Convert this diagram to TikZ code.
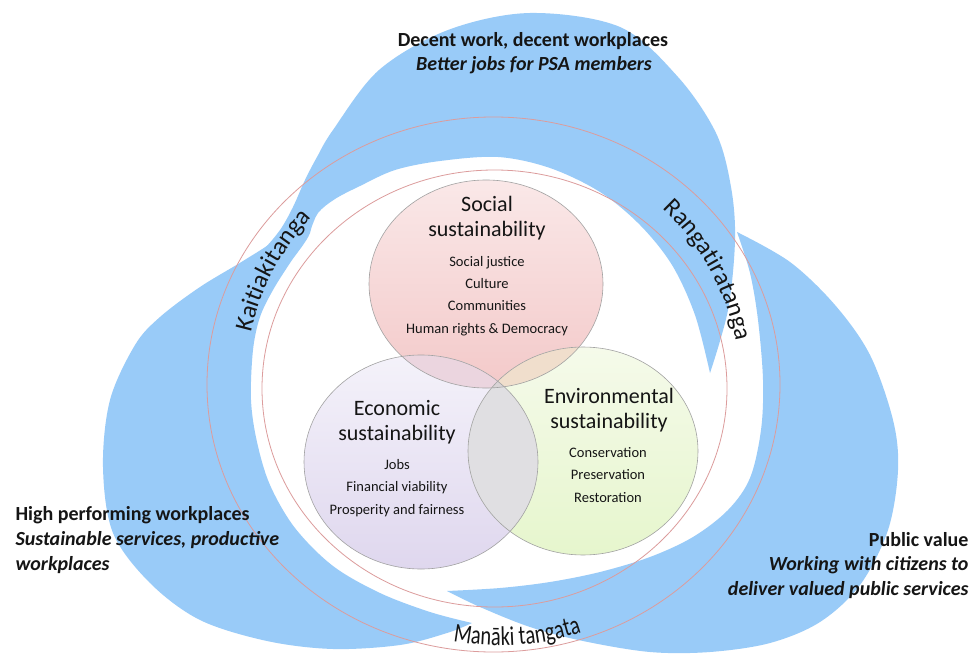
\documentclass[tikz,border=0pt]{standalone}
\usepackage{fontspec}
\setmainfont{Carlito}
\newfontfamily\narrowfont[FakeStretch=0.76]{Carlito}
\usepackage{tikz}
\usetikzlibrary{shapes.geometric,decorations.text}
\definecolor{ink}{HTML}{151515}
\definecolor{swooshblue}{HTML}{99CBF8}
\definecolor{ringred}{HTML}{DC9C9C}
\definecolor{venngray}{HTML}{A2A2A2}
\definecolor{soctop}{HTML}{FAE8E8}
\definecolor{socbot}{HTML}{F3C9C9}
\definecolor{ecotop}{HTML}{F4F2FA}
\definecolor{ecobot}{HTML}{DFD7EE}
\definecolor{envtop}{HTML}{F5FAEA}
\definecolor{envbot}{HTML}{E6F6CD}
\definecolor{mixse}{HTML}{EBD5DF}
\definecolor{mixsv}{HTML}{F0DECC}
\definecolor{mixev}{HTML}{E0DFE2}
\definecolor{mixall}{HTML}{D9D4D6}
\newcommand{\fsz}[2]{\fontsize{#1}{#2}\selectfont}

\begin{document}
\begin{tikzpicture}[
  x=1pt, y=-1pt,
  swoosh/.style={fill=swooshblue, draw=none},
  ring/.style={draw=ringred, line width=0.8pt},
  venn/.style={ellipse, inner sep=0pt, draw=none},
  vennline/.style={draw=venngray, line width=0.6pt},
  head/.style={font=\fsz{20}{24}\bfseries, text=ink},
  sub/.style={font=\fsz{20}{24.5}\bfseries\itshape, text=ink},
  title/.style={font=\fsz{22}{25}, text=ink, align=center},
  item/.style={font=\fsz{14.5}{22.2}, text=ink, align=center},
  ringlab/.style={decorate, decoration={text along path, text align=center, text color=ink}},
]
\fill[white] (0,0) rectangle (976,655);
\useasboundingbox (0,0) rectangle (976,655);

% three curved arrows, clockwise
\fill[swoosh] plot[smooth, tension=0.55] coordinates {(215,300) (243,265) (262,251) (280,230) (293,207) (305,180) (317,157) (333,130) (379,70) (448,30) (530,13) (620,27) (678,77) (716,133) (731,187) (735,240) (728,310) (710,373)}
  -- plot[smooth, tension=0.55] coordinates {(710,373) (695,315) (672,265) (640,225) (600,192) (550,168) (498,157) (440,161) (395,170) (360,186) (335,199) (318,213) (309,232) (290,258) (255,285) (215,300)} -- cycle;
\fill[swoosh] plot[smooth, tension=0.55] coordinates {(312,205) (310,233) (290,263) (273,290) (260,317) (253,350) (251,400) (257,442) (270,485) (295,528) (333,566) (380,593) (430,612) (472,623)}
  -- plot[smooth, tension=0.55] coordinates {(472,623) (447,633) (400,645) (333,649) (267,641) (200,620) (150,583) (113,533) (103,467) (110,400) (135,345) (160,317) (200,287) (243,261) (275,240) (300,215) (312,205)} -- cycle;
\fill[swoosh] plot[smooth, tension=0.55] coordinates {(737,232) (790,262) (835,305) (870,355) (893,420) (898,470) (888,530) (860,585) (820,622) (770,643) (710,652) (650,652) (583,641) (530,627) (480,607) (447,591)}
  -- plot[smooth, tension=0.55] coordinates {(447,591) (500,588) (550,582) (600,572) (650,557) (693,537) (728,510) (750,478) (761,430) (763,380) (758,320) (750,273) (737,232)} -- cycle;

% rings
\draw[ring] (494.5,388.5) ellipse [x radius=232.5, y radius=218.5];
\draw[ring] (493.5,384.5) ellipse [x radius=286.5, y radius=267.5];

% venn
\node[venn, top color=soctop, bottom color=socbot, minimum width=234pt, minimum height=208pt] (social) at (486,284) {};
\node[venn, top color=ecotop, bottom color=ecobot, minimum width=234pt, minimum height=214pt] (econ) at (421,462) {};
\node[venn, top color=envtop, bottom color=envbot, minimum width=230pt, minimum height=208pt] (env) at (583,451) {};
\begin{scope}
\clip (social.center) ellipse [x radius=117, y radius=104];
\fill[mixse] (econ.center) ellipse [x radius=117, y radius=107];
\fill[mixsv] (env.center) ellipse [x radius=115, y radius=104];
\end{scope}
\begin{scope}
\clip (econ.center) ellipse [x radius=117, y radius=107];
\fill[mixev] (env.center) ellipse [x radius=115, y radius=104];
\clip (env.center) ellipse [x radius=115, y radius=104];
\fill[mixall] (social.center) ellipse [x radius=117, y radius=104];
\end{scope}
\draw[vennline] (social.center) ellipse [x radius=117, y radius=104];
\draw[vennline] (econ.center) ellipse [x radius=117, y radius=107];
\draw[vennline] (env.center) ellipse [x radius=115, y radius=104];

\node[title] (soctitle) at (487,218) {Social\\sustainability};
\node[item] (socitems) at (487,296) {Social justice\\Culture\\Communities\\Human rights \& Democracy};
\node[title] (ecotitle) at (397,422) {Economic\\sustainability};
\node[item] (ecoitems) at (397,488) {Jobs\\Financial viability\\Prosperity and fairness};
\node[title] (envtitle) at (609,410) {Environmental\\sustainability};
\node[item] (envitems) at (608,475) {Conservation\\Preservation\\Restoration};

% outer texts
\node[head] (decent) at (533,41) {Decent work, decent workplaces};
\node[sub] (better) at (534,65) {Better jobs for PSA members};
\node[head, anchor=west] (hpw) at (12,515) {High performing workplaces};
\node[sub, anchor=north west, align=left] (hpwsub) at (12,528) {Sustainable services, productive\\workplaces};
\node[head, anchor=east] (pv) at (972,540) {Public value};
\node[sub, anchor=north east, align=right] (pvsub) at (972,553) {Working with citizens to\\deliver valued public services};

% ring labels
\path[ringlab, decoration={text={|\fsz{25}{25}|Kaitiakitanga}}] (494.5,388.5) ++(190:250) arc[start angle=190, end angle=226, radius=250];
\path[ringlab, decoration={text={|\fsz{25}{25}|Rangatiratanga}}] (494.5,388.5) ++(306:246) arc[start angle=306, end angle=356, radius=246];
\path[ringlab, decoration={text={|\narrowfont\fsz{27}{27}|Manāki tangata}}] (500,388.5) ++(108:257) arc[start angle=108, end angle=64, radius=257];
\end{tikzpicture}
\end{document}
